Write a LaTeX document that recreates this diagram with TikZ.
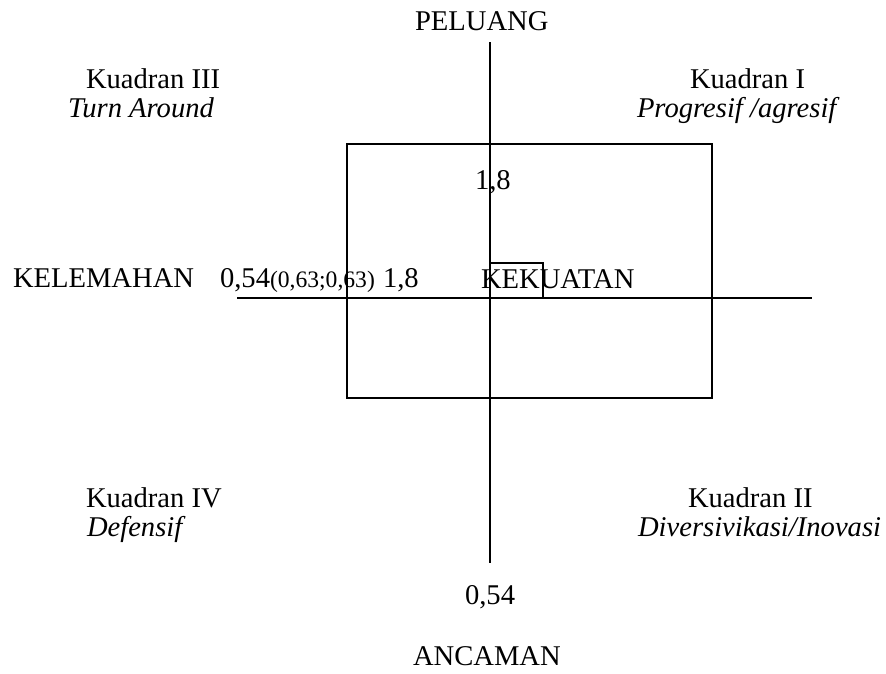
\documentclass[tikz,border=0pt]{standalone}
\usepackage{fontspec}
\setmainfont{Liberation Serif}
\begin{document}
\begin{tikzpicture}[x=1pt,y=-1pt,
  lbl/.style={anchor=base west,inner sep=0pt,outer sep=0pt,font=\fontsize{28.6}{33}\selectfont},
  lblsmall/.style={anchor=base west,inner sep=0pt,outer sep=0pt,font=\fontsize{23.6}{27}\selectfont},
  lbli/.style={lbl,font=\fontsize{28.6}{33}\selectfont\itshape},
  axis/.style={line width=1.6pt},
  boxline/.style={line width=1.6pt}]
\useasboundingbox (0,0) rectangle (886,673);
% axes
\coordinate (vtop) at (490,42);
\coordinate (vbot) at (490,563);
\coordinate (hl) at (237,298);
\coordinate (hr) at (812,298);
\draw[axis] (vtop) -- (vbot);
\draw[axis] (hl) -- (hr);
% boxes
\coordinate (r1) at (347,144);
\coordinate (r2) at (712,398);
\draw[boxline] (r1) rectangle (r2);
\coordinate (s1) at (490,263);
\coordinate (s2) at (543,298);
\draw[boxline] (s1) rectangle (s2);
% labels
\node[lbl] (peluang) at (415,30) {PELUANG};
\node[lbl] (k3) at (86,88) {Kuadran III};
\node[lbli] (k3b) at (68,117) {Turn Around};
\node[lbl] (k1) at (690,88) {Kuadran I};
\node[lbli] (k1b) at (637,117) {Progresif /agresif};
\node[lbl] (v18) at (475,189) {1,8};
\node[lbl] (kelemahan) at (13,287) {KELEMAHAN};
\node[lbl] (h054) at (220,287) {0,54};
\node[lblsmall] (coord) at (270,287) {(0,63;0,63)};
\node[lbl] (h18) at (383,287) {1,8};
\node[lbl] (kekuatan) at (481,288) {KEKUATAN};
\node[lbl] (k4) at (86,507) {Kuadran IV};
\node[lbli] (k4b) at (87,536) {Defensif};
\node[lbl] (k2) at (688,507) {Kuadran II};
\node[lbli] (k2b) at (638,536) {Diversivikasi/Inovasi};
\node[lbl] (v054) at (465,604) {0,54};
\node[lbl] (ancaman) at (413,665) {ANCAMAN};
\end{tikzpicture}
\end{document}
